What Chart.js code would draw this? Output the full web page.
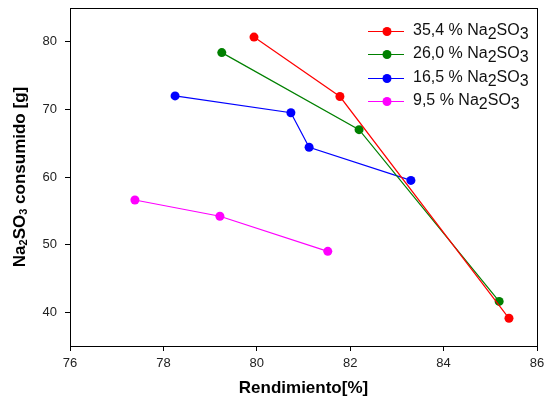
<!DOCTYPE html>
<html>
<head>
<meta charset="utf-8">
<script src="https://cdn.jsdelivr.net/npm/chart.js@4.4.0/dist/chart.umd.min.js"></script>
<style>
  body { margin: 0; background: #fff; }
  #wrap { width: 545px; height: 405px; }
</style>
</head>
<body>
<div id="wrap"><canvas id="c"></canvas></div>
<script>
const seriesNames = ['35,4 % Na', '26,0 % Na', '16,5 % Na', '9,5 % Na'];
const seriesColors = ['#ff0000', '#008000', '#0000ff', '#ff00ff'];

const x354 = [79.94, 81.78, 85.40];
const y354 = [80.7, 71.9, 39.1];
const x260 = [79.25, 82.19, 85.19];
const y260 = [78.4, 67.0, 41.6];
const x165 = [78.25, 80.73, 81.12, 83.30];
const y165 = [72.0, 69.5, 64.4, 59.5];
const x95 = [77.39, 79.21, 81.52];
const y95 = [56.6, 54.2, 49.0];

const xTicks = [76, 78, 80, 82, 84, 86];
const yTicks = [40, 50, 60, 70, 80];

const xs = [x354, x260, x165, x95];
const ys = [y354, y260, y165, y95];

const datasets = xs.map((xv, i) => ({
  label: seriesNames[i],
  data: xv.map((x, j) => ({ x: x, y: ys[i][j] })),
  showLine: true,
  borderColor: seriesColors[i],
  backgroundColor: seriesColors[i],
  borderWidth: 1.2,
  pointRadius: 4.5,
  pointBorderWidth: 0
}));

const font = '"Liberation Sans", Arial, sans-serif';

const decor = {
  id: 'decor',
  afterDraw(chart) {
    const ctx = chart.ctx;
    const a = chart.chartArea;
    ctx.save();
    // frame
    ctx.strokeStyle = '#000';
    ctx.lineWidth = 1;
    ctx.strokeRect(a.left + 0.5, a.top + 0.5, a.right - a.left, a.bottom - a.top);

    // legend
    ctx.font = '16px ' + font;
    ctx.textBaseline = 'middle';
    ctx.textAlign = 'left';
    const rowY = [31, 54, 78, 101];
    seriesNames.forEach((name, i) => {
      const y = rowY[i];
      ctx.strokeStyle = seriesColors[i];
      ctx.fillStyle = seriesColors[i];
      ctx.lineWidth = 1.2;
      ctx.beginPath();
      ctx.moveTo(368, y + 0.5);
      ctx.lineTo(404, y + 0.5);
      ctx.stroke();
      ctx.beginPath();
      ctx.arc(387, y + 0.5, 4.5, 0, Math.PI * 2);
      ctx.fill();
      ctx.fillStyle = '#111';
      let x = 413;
      const parts = [[name, 0], ['2', 4], ['SO', 0], ['3', 4]];
      parts.forEach(p => {
        ctx.fillText(p[0], x, y + p[1]);
        x += ctx.measureText(p[0]).width;
      });
    });

    // x title
    ctx.fillStyle = '#000';
    ctx.font = 'bold 17px ' + font;
    ctx.textAlign = 'center';
    ctx.textBaseline = 'middle';
    ctx.fillText('Rendimiento[%]', (a.left + a.right) / 2, 388);

    // y title with subscripts
    ctx.translate(20, 177);
    ctx.rotate(-Math.PI / 2);
    const big = 'bold 17px ' + font;
    const small = 'bold 11px ' + font;
    const tparts = [['Na', big, 0], ['2', small, 4], ['SO', big, 0], ['3', small, 4], [' consumido [g]', big, 0]];
    let total = 0;
    tparts.forEach(p => { ctx.font = p[1]; total += ctx.measureText(p[0]).width; });
    let tx = -total / 2;
    ctx.textAlign = 'left';
    tparts.forEach(p => {
      ctx.font = p[1];
      ctx.fillText(p[0], tx, p[2]);
      tx += ctx.measureText(p[0]).width;
    });
    ctx.restore();
  }
};

new Chart(document.getElementById('c'), {
  type: 'scatter',
  data: { datasets: datasets },
  options: {
    responsive: true,
    maintainAspectRatio: false,
    animation: false,
    layout: { padding: { top: 8, right: 8, left: 0, bottom: 0 } },
    plugins: { legend: { display: false }, tooltip: { enabled: false } },
    scales: {
      x: {
        type: 'linear',
        min: 76,
        max: 86,
        afterBuildTicks: s => { s.ticks = xTicks.map(v => ({ value: v })); },
        afterFit: s => { s.height = 59; s.paddingLeft = 0; s.paddingRight = 0; },
        grid: { drawOnChartArea: false, drawTicks: true, tickLength: 5, color: '#000' },
        border: { display: true, color: '#000' },
        ticks: { color: '#222', padding: 5, font: { family: font, size: 13 } }
      },
      y: {
        type: 'linear',
        min: 35,
        max: 85,
        afterBuildTicks: s => { s.ticks = yTicks.map(v => ({ value: v })); },
        afterFit: s => { s.width = 70; s.paddingTop = 0; s.paddingBottom = 0; },
        grid: { drawOnChartArea: false, drawTicks: true, tickLength: 5, color: '#000' },
        border: { display: true, color: '#000' },
        ticks: { color: '#222', padding: 8, font: { family: font, size: 13 } }
      }
    }
  },
  plugins: [decor]
});
</script>
</body>
</html>
